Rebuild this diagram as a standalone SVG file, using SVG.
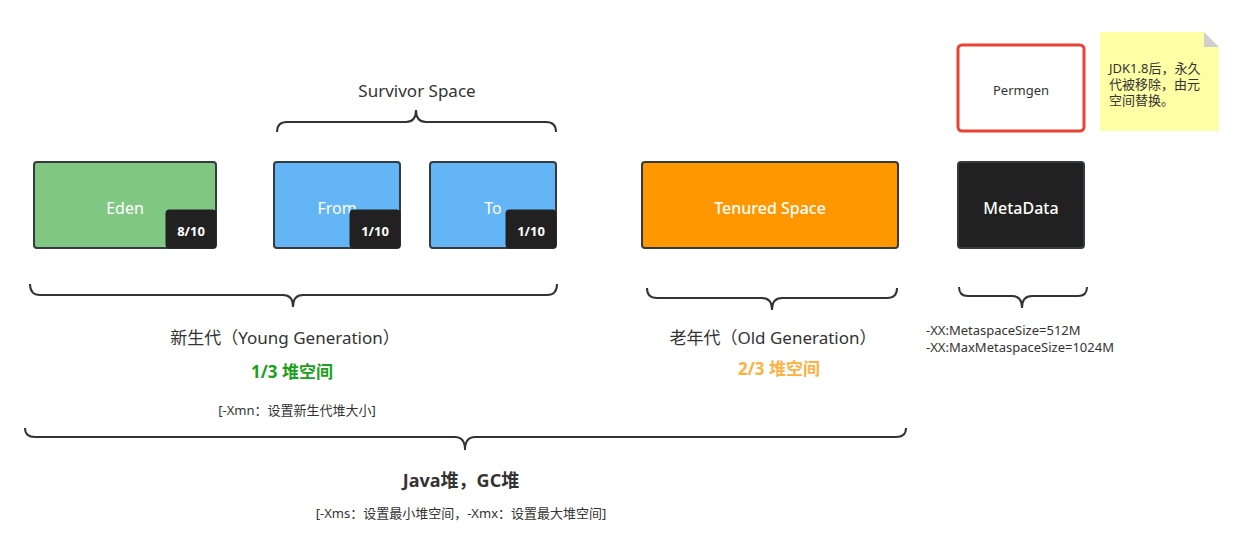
<svg xmlns="http://www.w3.org/2000/svg" width="1244" height="558" viewBox="0 0 1244 558">
<style>
text{font-family:"Noto Sans","Noto Sans CJK SC",sans-serif;}
.box{stroke:#36393d;stroke-width:2;}
.badge{fill:#212121;stroke:#212121;stroke-width:1;}
.bt{fill:#fff;font-size:13px;font-weight:bold;text-anchor:middle;}
.nt{fill:#fff;font-size:16px;text-anchor:middle;}
.brace{fill:none;stroke:#333;stroke-width:2;}
.lbl{fill:#333;font-size:17px;text-anchor:middle;}
.sm{fill:#333;font-size:13px;}
</style>
<rect width="1244" height="558" fill="#fff"/>
<g id="eden">
<rect class="box" x="34" y="162" width="182" height="86" rx="3" fill="#81C784"/>
<text class="nt" x="125" y="214">Eden</text>
<rect class="badge" x="166" y="210" width="50" height="38" rx="3"/>
<text class="bt" x="191" y="236">8/10</text>
</g>
<g id="from">
<rect class="box" x="274" y="162" width="126" height="86" rx="3" fill="#64B5F6"/>
<text class="nt" x="337" y="214">From</text>
<rect class="badge" x="350" y="210" width="50" height="38" rx="3"/>
<text class="bt" x="375" y="236">1/10</text>
</g>
<g id="to">
<rect class="box" x="430" y="162" width="126" height="86" rx="3" fill="#64B5F6"/>
<text class="nt" x="493" y="214">To</text>
<rect class="badge" x="506" y="210" width="50" height="38" rx="3"/>
<text class="bt" x="531" y="236">1/10</text>
</g>
<g id="tenured">
<rect class="box" x="642" y="162" width="256" height="86" rx="3" fill="#FF9800"/>
<text class="nt" x="770" y="214" font-weight="500">Tenured Space</text>
</g>
<g id="metadata">
<rect class="box" x="958" y="162" width="126" height="86" rx="3" fill="#212121" stroke="#212121"/>
<text class="nt" x="1021" y="214" font-weight="500">MetaData</text>
</g>
<g id="permgen">
<rect x="958" y="45" width="126" height="86" rx="4" fill="#fff" stroke="#EA4335" stroke-width="3"/>
<text x="1021" y="95" fill="#333" font-size="13" text-anchor="middle">Permgen</text>
</g>
<g id="note">
<path d="M1100,32 H1204 L1219,47 V131 H1100 Z" fill="#FFFFA6"/>
<path d="M1204,32 L1219,47 H1204 Z" fill="#CFCFCF"/>
<text class="sm" x="1109" y="73">JDK1.8后，永久</text>
<text class="sm" x="1109" y="89">代被移除，由元</text>
<text class="sm" x="1109" y="105">空间替换。</text>
</g>
<g id="connectors">
<path class="brace" d="M277,132 Q277,122 287,122 H406 Q416,122 416,110 Q416,122 426,122 H546 Q556,122 556,132"/>
<path class="brace" d="M30,284 Q30,295 40,295 H283 Q293,295 293,307 Q293,295 303,295 H547 Q557,295 557,284"/>
<path class="brace" d="M647,288 Q647,298 657,298 H762 Q772,298 772,310 Q772,298 782,298 H887 Q897,298 897,288"/>
<path class="brace" d="M959,287 Q959,296 968,296 H1012 Q1022,296 1022,308 Q1022,296 1032,296 H1078 Q1087,296 1087,287"/>
<path class="brace" d="M25,428 Q25,437 35,437 H455 Q465,437 465,450 Q465,437 475,437 H896 Q906,437 906,428"/>
</g>
<g id="labels">
<text class="lbl" x="417" y="97">Survivor Space</text>
<text class="lbl" x="285" y="344">新生代（Young Generation）</text>
<text x="292" y="378" fill="#1AA01A" font-size="17" font-weight="bold" text-anchor="middle">1/3 堆空间</text>
<text class="sm" x="297" y="415" text-anchor="middle">[-Xmn：设置新生代堆大小]</text>
<text class="lbl" x="773" y="344">老年代（Old Generation）</text>
<text x="779" y="375" fill="#FFB13F" font-size="17" font-weight="bold" text-anchor="middle">2/3 堆空间</text>
<text class="sm" x="926" y="335">-XX:MetaspaceSize=512M</text>
<text class="sm" x="926" y="352">-XX:MaxMetaspaceSize=1024M</text>
<text x="461" y="487" fill="#333" font-size="18" font-weight="bold" text-anchor="middle">Java堆，GC堆</text>
<text class="sm" x="461" y="518" text-anchor="middle">[-Xms：设置最小堆空间，-Xmx：设置最大堆空间]</text>
</g>
</svg>
